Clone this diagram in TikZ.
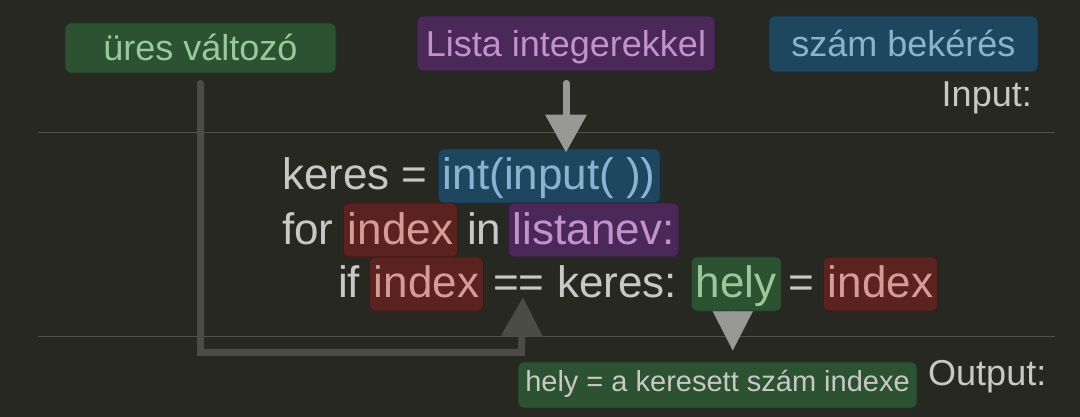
\documentclass[tikz,border=0pt]{standalone}
\usepackage{fontspec}
\setmainfont{Liberation Sans}
\usetikzlibrary{arrows.meta,calc}

\definecolor{bgcol}{RGB}{40,40,35}
\definecolor{rulecol}{RGB}{82,82,76}
\definecolor{codecol}{RGB}{200,200,198}
\definecolor{gfill}{RGB}{45,82,49}
\definecolor{gtext}{RGB}{155,200,155}
\definecolor{pfill}{RGB}{74,40,88}
\definecolor{ptext}{RGB}{195,145,205}
\definecolor{bfill}{RGB}{30,70,95}
\definecolor{btext}{RGB}{135,180,210}
\definecolor{rfill}{RGB}{90,35,32}
\definecolor{rtext}{RGB}{215,155,150}
\definecolor{arrowcol}{RGB}{152,152,150}
\definecolor{linkcol}{RGB}{76,76,71}

\begin{document}
\begin{tikzpicture}[x=1pt,y=-1pt,
  tag/.style={rounded corners=6pt, draw=black!35!#1, line width=0.8pt, fill=#1,
    inner sep=0pt, text height=26pt, text depth=0pt,
    font=\fontsize{36pt}{40pt}\selectfont},
  hl/.style={rounded corners=6pt, draw=black!30!#1, line width=0.8pt, fill=#1,
    anchor=base west, inner xsep=4.5pt, inner ysep=0pt,
    text height=41pt, text depth=13pt,
    font=\fontsize{44pt}{50pt}\selectfont},
  code/.style={anchor=base west, inner sep=0pt, text=codecol,
    font=\fontsize{44pt}{50pt}\selectfont},
  side/.style={inner sep=0pt, text=codecol, font=\fontsize{36pt}{40pt}\selectfont},
  bigarrow/.style={draw=arrowcol, fill=arrowcol, line width=7pt, line cap=round,
    -{Triangle[width=40pt,length=38pt]}},
  link/.style={draw=linkcol, line width=7pt, line cap=round,
    -{Triangle[width=40pt,length=39pt]}}
]
% background and frame of the picture
\fill[bgcol] (0,0) rectangle (1080,417);
\useasboundingbox (0,0) rectangle (1080,417);

% input / output separators
\draw[rulecol, line width=1pt] (38,133) -- (1055,133);
\draw[rulecol, line width=1pt] (38,336) -- (1055,336);

% labels above the code
\node[tag=gfill, text=gtext, minimum width=271pt, minimum height=50pt] (ures) at (200.5,48) {üres változó};
\node[tag=pfill, text=ptext, minimum width=298pt, minimum height=55pt] (lista) at (566,43.5) {Lista integerekkel};
\node[tag=bfill, text=btext, minimum width=269pt, minimum height=56pt] (szam) at (903.5,44) {szám bekérés};
\node[side, anchor=base east] (input) at (1032,107) {Input:};

% code, line 1
\node[code] (k1) at (282,190) {keres =};
\node[hl=bfill, text=btext] (intin) at (438,190) {int(input( ))};
% code, line 2
\node[code] (for) at (282,244) {for};
\node[hl=rfill, text=rtext] (idxa) at (343,244) {index};
\node[code] (in) at (467,244) {in};
\node[hl=pfill, text=ptext] (lnev) at (508,244) {listanev:};
% code, line 3
\node[code] (if) at (338,298) {if};
\node[hl=rfill, text=rtext] (idxb) at (369,298) {index};
\node[code] (eq) at (493,298) {==};
\node[code] (ker) at (557,298) {keres:};
\node[hl=gfill, text=gtext] (hely) at (691,298) {hely};
\node[code] (as) at (788,298) {=};
\node[hl=rfill, text=rtext] (idxc) at (823,298) {index};

% result box and label
\node[tag=gfill, text=codecol, minimum width=399pt, minimum height=46pt,
  text height=21pt, text depth=9pt, font=\fontsize{29pt}{32pt}\selectfont]
  (out) at (717.5,385) {hely = a keresett szám indexe};
\node[side, anchor=base west] (output) at (928,385) {Output:};

% connectors
\draw[bigarrow] ($(lista.south)+(0,12)$) -- ($(lista.south |- intin.north)+(0,4)$);
\draw[draw=arrowcol, fill=arrowcol, line width=0.1pt, -{Triangle[width=40pt,length=39pt]}]
  ($(hely.south)+(-3.5,0)$) -- ($(hely.south)+(-3.5,39)$);
\coordinate (bend) at ($(ures.south)+(0,279)$);
\draw[link] ($(ures.south)+(0,10)$) |- ($(bend)+(321,0)$) -- ($(eq.south)+(4,-1)$ |- 0,302);
\end{tikzpicture}
\end{document}
